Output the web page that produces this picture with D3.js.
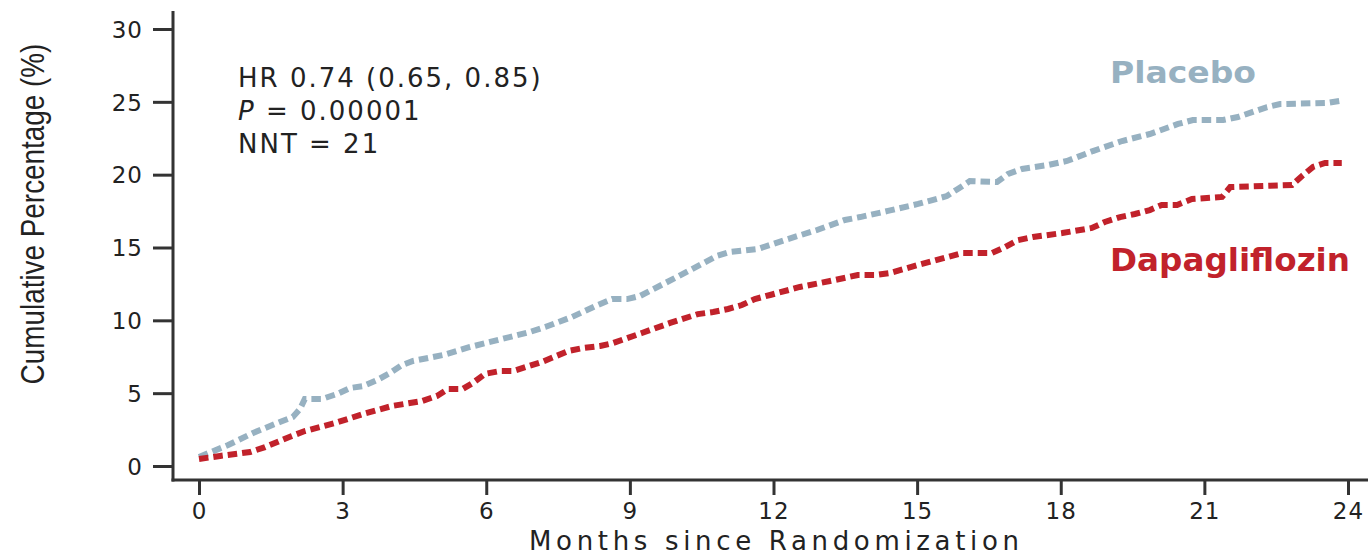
<!DOCTYPE html>
<html>
<head>
<meta charset="utf-8">
<script src="https://cdn.jsdelivr.net/npm/d3@7"></script>
<style>
  html, body { margin: 0; padding: 0; background: #fff; }
  svg { display: block; }
</style>
</head>
<body>
<svg id="chart" width="1368" height="557"></svg>
<script>
// ---- data (months, cumulative %) ----
const placeboMonths = [0, 0.61, 1.13, 1.69, 1.96, 2.11, 2.21, 2.57, 2.88, 3.15, 3.43, 3.72, 3.99, 4.24, 4.47, 5.10, 5.66, 6.33, 6.91, 7.23, 7.79, 8.33, 8.63, 8.94, 9.21, 9.78, 10.30, 10.82, 11.09, 11.68, 12.30, 12.91, 13.49, 13.81, 14.39, 15.02, 15.62, 15.85, 16.10, 16.67, 16.90, 17.19, 17.73, 18.13, 18.67, 19.28, 19.86, 20.45, 20.76, 21.39, 21.70, 22.31, 22.58, 23.56, 23.83];
const placeboValues = [0.62, 1.44, 2.27, 3.02, 3.36, 3.91, 4.60, 4.60, 4.94, 5.35, 5.49, 5.90, 6.38, 6.93, 7.21, 7.62, 8.17, 8.72, 9.20, 9.54, 10.23, 11.05, 11.46, 11.46, 11.67, 12.63, 13.52, 14.42, 14.69, 14.90, 15.58, 16.20, 16.89, 17.09, 17.51, 17.99, 18.53, 19.02, 19.56, 19.50, 20.05, 20.39, 20.66, 20.94, 21.62, 22.31, 22.79, 23.48, 23.75, 23.75, 23.96, 24.64, 24.85, 24.92, 25.06];

const dapaMonths = [0, 0.44, 1.07, 1.38, 1.94, 2.21, 2.84, 3.43, 4.03, 4.66, 4.97, 5.20, 5.51, 5.72, 5.97, 6.29, 6.56, 7.16, 7.71, 8.02, 8.38, 8.65, 9.25, 9.84, 10.42, 10.74, 11.05, 11.34, 11.61, 11.93, 12.55, 13.18, 13.76, 14.12, 14.43, 15.02, 15.64, 15.94, 16.56, 16.84, 17.11, 17.42, 18.03, 18.65, 18.92, 19.24, 19.55, 19.86, 20.11, 20.43, 20.74, 21.37, 21.54, 22.83, 23.04, 23.27, 23.52, 23.87];
const dapaValues = [0.48, 0.69, 0.96, 1.30, 2.06, 2.40, 2.95, 3.57, 4.12, 4.46, 4.81, 5.29, 5.29, 5.70, 6.32, 6.52, 6.52, 7.14, 7.89, 8.10, 8.24, 8.44, 9.13, 9.82, 10.43, 10.57, 10.78, 11.05, 11.46, 11.74, 12.29, 12.70, 13.11, 13.11, 13.25, 13.80, 14.35, 14.62, 14.62, 15.03, 15.51, 15.72, 15.99, 16.34, 16.75, 17.09, 17.30, 17.57, 17.92, 17.92, 18.33, 18.47, 19.15, 19.29, 19.91, 20.53, 20.80, 20.80];

const xTicks = [0, 3, 6, 9, 12, 15, 18, 21, 24];
const yTicks = [0, 5, 10, 15, 20, 25, 30];

const seriesNames = ["Placebo", "Dapagliflozin"];
const annotationLines = ["HR 0.74 (0.65, 0.85)", "= 0.00001", "NNT = 21"];
const xTitle = "Months since Randomization";
const yTitle = "Cumulative Percentage (%)";

// ---- styling ----
const BLUE = "#97b1c1";
const RED = "#c1222b";
const AXIS = "#333333";
const TEXT = "#222222";

const svg = d3.select("#chart");

const x = d3.scaleLinear().domain([0, 24]).range([199, 1348]);
const y = d3.scaleLinear().domain([0, 30]).range([466, 29]);

// axis domain lines
svg.append("line").attr("x1", 173).attr("x2", 173).attr("y1", 11).attr("y2", 481.5)
  .attr("stroke", AXIS).attr("stroke-width", 3);
svg.append("line").attr("x1", 171.5).attr("x2", 1368).attr("y1", 480).attr("y2", 480)
  .attr("stroke", AXIS).attr("stroke-width", 3);

// y axis ticks
const yAxis = svg.append("g").attr("transform", "translate(173,0)")
  .call(d3.axisLeft(y).tickValues(yTicks).tickSize(20).tickPadding(10).tickSizeOuter(0));
yAxis.select(".domain").remove();
yAxis.selectAll(".tick line").attr("stroke", AXIS).attr("stroke-width", 3);
yAxis.selectAll(".tick text")
  .attr("fill", TEXT)
  .style("font-family", "'DejaVu Sans', sans-serif")
  .style("font-size", "23px")
  .style("letter-spacing", "1px")
  .attr("dy", "0.36em");

// x axis ticks
const xAxis = svg.append("g").attr("transform", "translate(0,480)")
  .call(d3.axisBottom(x).tickValues(xTicks).tickSize(15).tickPadding(10).tickSizeOuter(0));
xAxis.select(".domain").remove();
xAxis.selectAll(".tick line").attr("stroke", AXIS).attr("stroke-width", 3);
xAxis.selectAll(".tick text")
  .attr("fill", TEXT)
  .style("font-family", "'DejaVu Sans', sans-serif")
  .style("font-size", "23px")
  .style("letter-spacing", "1px")
  .attr("dy", "0.6em");

// axis titles
svg.append("text")
  .attr("x", 774).attr("y", 550)
  .attr("text-anchor", "middle")
  .attr("fill", TEXT)
  .attr("textLength", 490).attr("lengthAdjust", "spacing")
  .style("font-family", "'DejaVu Sans', sans-serif")
  .style("font-size", "26px")
  .text(xTitle);

svg.append("text")
  .attr("transform", "translate(44,214) rotate(-90) scale(0.82,1)")
  .attr("text-anchor", "middle")
  .attr("fill", TEXT)
  .style("font-family", "'Liberation Sans', sans-serif")
  .style("font-size", "34px")
  .text(yTitle);

// lines
const line = d3.line().x(d => x(d[0])).y(d => y(d[1]));
const placebo = placeboMonths.map((m, i) => [m, placeboValues[i]]);
const dapa = dapaMonths.map((m, i) => [m, dapaValues[i]]);

svg.append("path").datum(placebo)
  .attr("d", line).attr("fill", "none")
  .attr("stroke", BLUE).attr("stroke-width", 6)
  .attr("stroke-dasharray", "9.5,5");

svg.append("path").datum(dapa)
  .attr("d", line).attr("fill", "none")
  .attr("stroke", RED).attr("stroke-width", 6)
  .attr("stroke-dasharray", "9.5,5");

// series labels
svg.append("text")
  .attr("x", 1110).attr("y", 83)
  .attr("fill", BLUE)
  .attr("textLength", 146).attr("lengthAdjust", "spacingAndGlyphs")
  .style("font-family", "'DejaVu Sans', sans-serif")
  .style("font-weight", "bold")
  .style("font-size", "31px")
  .text(seriesNames[0]);

svg.append("text")
  .attr("x", 1110).attr("y", 271)
  .attr("fill", RED)
  .attr("textLength", 240).attr("lengthAdjust", "spacingAndGlyphs")
  .style("font-family", "'DejaVu Sans', sans-serif")
  .style("font-weight", "bold")
  .style("font-size", "32px")
  .text(seriesNames[1]);

// annotation
const ann = svg.append("g")
  .style("font-family", "'DejaVu Sans', sans-serif")
  .style("font-size", "26px")
  .style("letter-spacing", "2px")
  .attr("fill", TEXT);

ann.append("text").attr("x", 238).attr("y", 87).text(annotationLines[0]);
const pText = ann.append("text").attr("x", 238).attr("y", 120);
pText.append("tspan").style("font-style", "italic").text("P");
pText.append("tspan").text(" " + annotationLines[1]);
ann.append("text").attr("x", 238).attr("y", 153).text(annotationLines[2]);
</script>
</body>
</html>
